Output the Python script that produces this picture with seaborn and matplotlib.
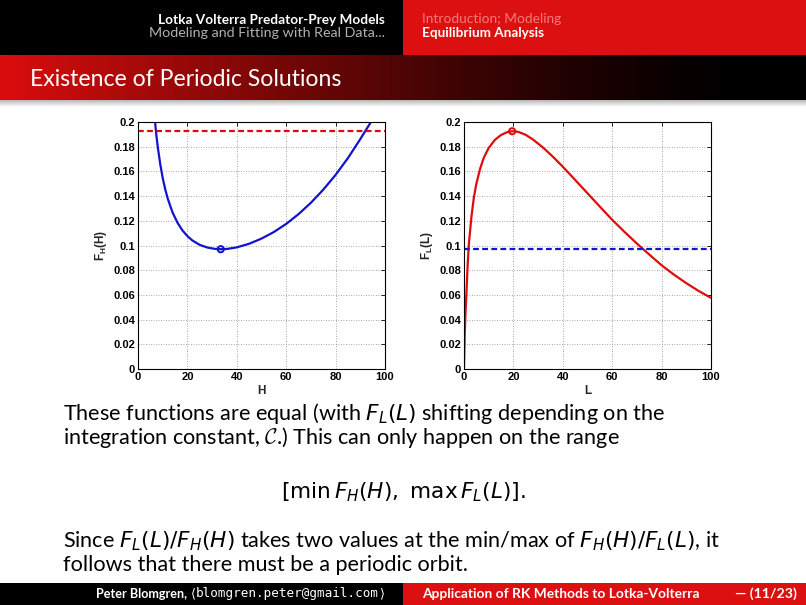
import numpy as np
import pandas as pd
import matplotlib
matplotlib.use("Agg")
import matplotlib.pyplot as plt
import seaborn as sns
from matplotlib.patches import Rectangle

# ---------------- data ----------------
H_values = [6.9, 7.5, 8, 9, 10, 11, 12, 14, 16, 18, 20, 22, 25, 28, 31, 33.5,
            36, 40, 45, 50, 55, 60, 65, 70, 75, 80, 85, 90, 94.3]
FH_values = [0.2, 0.1882, 0.1798, 0.1659, 0.1547, 0.1457, 0.1382, 0.1267, 0.1184,
             0.1122, 0.1076, 0.1041, 0.1005, 0.0984, 0.0973, 0.0970, 0.0972, 0.0985,
             0.1014, 0.1056, 0.1109, 0.1175, 0.1254, 0.1346, 0.1452, 0.1572, 0.1708,
             0.1862, 0.2]
L_values = [0, 0.3, 0.6, 1.0, 1.5, 2.0, 3.0, 4.0, 5.0, 6.5, 8, 10, 12.5, 15, 17.5,
            19.5, 22, 25, 28, 32, 36, 40, 45, 50, 55, 60, 65, 70, 75, 80, 85, 90,
            95, 100]
FL_values = [0.0, 0.028, 0.045, 0.062, 0.085, 0.102, 0.123, 0.139, 0.150, 0.162,
             0.171, 0.179, 0.1855, 0.1895, 0.1918, 0.1925, 0.1920, 0.1896, 0.1857,
             0.1793, 0.1719, 0.1638, 0.1531, 0.1423, 0.1315, 0.1208, 0.1110, 0.1016,
             0.0927, 0.0840, 0.0764, 0.0695, 0.0632, 0.0576]
H_at_min = [33.5]
FH_min = [0.097]
L_at_max = [19.5]
FL_max = [0.1925]
x_ticks = [0, 20, 40, 60, 80, 100]
x_ticklabels = ["0", "20", "40", "60", "80", "100"]
y_ticks = [0, 0.02, 0.04, 0.06, 0.08, 0.1, 0.12, 0.14, 0.16, 0.18, 0.2]
y_ticklabels = ["0", "0.02", "0.04", "0.06", "0.08", "0.1", "0.12", "0.14",
                "0.16", "0.18", "0.2"]

# ---------------- style ----------------
sns.set_style("white")
plt.rcParams["font.family"] = ["Lato", "DejaVu Sans"]
plt.rcParams["mathtext.fontset"] = "custom"
plt.rcParams["mathtext.rm"] = "DejaVu Sans"
plt.rcParams["mathtext.it"] = "DejaVu Sans:italic"
plt.rcParams["mathtext.bf"] = "Liberation Sans:bold"
plt.rcParams["mathtext.cal"] = "cmsy10"

BLUE = "#1212d2"
RED = "#e00c0c"
HDR_RED = "#dc1010"
PLOT_FONT = ["Liberation Sans", "DejaVu Sans"]

W, Hh = 806, 605
fig = plt.figure(figsize=(W / 100, Hh / 100), dpi=100)
fig.patch.set_facecolor("white")

bg = fig.add_axes([0, 0, 1, 1], zorder=0)
bg.set_xlim(0, W)
bg.set_ylim(Hh, 0)
bg.axis("off")

# header
bg.add_patch(Rectangle((0, 0), 403, 55, color="black", lw=0))
bg.add_patch(Rectangle((403, 0), W - 403, 55, color=HDR_RED, lw=0))
# title bar gradient red -> black
t = np.linspace(0, 1, 400)
fade = np.clip(1 - t / 0.92, 0, 1) ** 1.3
grad = np.zeros((1, len(t), 3))
grad[0, :, 0] = 0.86 * fade
grad[0, :, 1] = 0.05 * fade
grad[0, :, 2] = 0.05 * fade
bg.imshow(grad, extent=(0, W, 100, 55), aspect="auto", interpolation="bilinear")
# shadow under title bar
sh = np.linspace(0.72, 1.0, 20)
shadow = np.repeat(sh[:, None, None], 3, axis=2)
bg.imshow(shadow, extent=(0, W, 107, 100), aspect="auto", interpolation="bilinear")
bg.set_xlim(0, W)
bg.set_ylim(Hh, 0)
# footer
bg.add_patch(Rectangle((0, 583), 403, 22, color="black", lw=0))
bg.add_patch(Rectangle((403, 583), W - 403, 22, color=HDR_RED, lw=0))

renderer = fig.canvas.get_renderer()


def fit_text(x, y, s, width, size, ha="left", **kw):
    txt = bg.text(x, y, s, fontsize=size, ha=ha, va="center", **kw)
    w = txt.get_window_extent(renderer).width
    txt.set_fontsize(size * width / w)
    return txt


def pieces_right(x_right, y, pieces, size, width, **kw):
    """Place text pieces left-to-right, scaled to width, ending at x_right."""
    objs = []
    for s, extra in pieces:
        o = bg.text(0, y, s, fontsize=size, ha="left", va="center", **kw, **extra)
        objs.append(o)
    total = sum(o.get_window_extent(renderer).width for o in objs)
    scale = width / total
    for o in objs:
        o.set_fontsize(size * scale)
    widths = [o.get_window_extent(renderer).width for o in objs]
    x = x_right - sum(widths)
    for o, w in zip(objs, widths):
        o.set_x(x)
        x += w


# header texts
fit_text(385, 20, "Lotka Volterra Predator-Prey Models", 228, 8, ha="right",
         color="white", fontweight="bold")
fit_text(385, 33, "Modeling and Fitting with Real Data...", 238, 8, ha="right",
         color="#b0b0b0")
fit_text(422, 19, "Introduction; Modeling", 140, 8, color="#f27a7a")
fit_text(422, 33, "Equilibrium Analysis", 122, 8, color="white", fontweight="bold")
# title
fit_text(30, 80, "Existence of Periodic Solutions", 312, 15, color="white")

# body text (common size from first line)
t1 = fit_text(63, 414, r"These functions are equal (with $F_L(L)$ shifting depending on the",
              604, 12.5, color="black")
bs = t1.get_fontsize()
bg.text(63, 437, r"integration constant, $\mathcal{C}$.) This can only happen on the range",
        fontsize=bs, va="center", color="black")
bg.text(403, 492, r"$\left[\min\, F_H(H),\ \max\, F_L(L)\right].$", fontsize=bs,
        va="center", ha="center", color="black")
bg.text(63, 541, r"Since $F_L(L)/F_H(H)$ takes two values at the min/max of $F_H(H)/F_L(L)$, it",
        fontsize=bs, va="center", color="black")
bg.text(63, 565, "follows that there must be a periodic orbit.", fontsize=bs,
        va="center", color="black")

# footer text
pieces_right(385, 594, [("Peter Blomgren, ", {"fontweight": "bold"}),
                        (r"$\langle$", {}),
                        ("blomgren.peter@gmail.com", {"family": "DejaVu Sans Mono"}),
                        (r"$\rangle$", {})], 8, 290, color="white")
fit_text(422, 594, "Application of RK Methods to Lotka-Volterra", 278, 8, color="white",
         fontweight="bold")
fit_text(797, 594, r"— (11/23)", 62, 8, ha="right", color="white", fontweight="bold")

# ---------------- plots ----------------
dfH = pd.DataFrame({"H": H_values, "F": FH_values})
dfL = pd.DataFrame({"L": L_values, "F": FL_values})

ax1 = fig.add_axes([138 / W, 1 - 369 / Hh, 247 / W, 247 / Hh], zorder=2)
ax2 = fig.add_axes([464 / W, 1 - 369 / Hh, 247 / W, 247 / Hh], zorder=2)

sns.lineplot(data=dfH, x="H", y="F", ax=ax1, color=BLUE, linewidth=1.6,
             estimator=None, sort=False)
ax1.axhline(FL_max[0], color=RED, lw=1.6, dashes=(2.6, 1.5))
sns.scatterplot(x=H_at_min, y=FH_min, ax=ax1, s=20, marker="o",
                facecolor="none", edgecolor=BLUE, linewidth=1.4, zorder=5)

sns.lineplot(data=dfL, x="L", y="F", ax=ax2, color=RED, linewidth=1.6,
             estimator=None, sort=False)
ax2.axhline(FH_min[0], color=BLUE, lw=1.6, dashes=(2.6, 1.5))
sns.scatterplot(x=L_at_max, y=FL_max, ax=ax2, s=20, marker="o",
                facecolor="none", edgecolor=RED, linewidth=1.4, zorder=5)

for ax, xl, yl in [(ax1, "H", r"F$_\mathbf{H}$(H)"), (ax2, "L", r"F$_\mathbf{L}$(L)")]:
    ax.set_xlim(0, 100)
    ax.set_ylim(0, 0.2)
    ax.set_xticks(x_ticks)
    ax.set_xticklabels(x_ticklabels, fontfamily=PLOT_FONT, fontweight="bold", fontsize=8)
    ax.set_yticks(y_ticks)
    ax.set_yticklabels(y_ticklabels, fontfamily=PLOT_FONT, fontweight="bold", fontsize=8)
    ax.tick_params(direction="in", length=3, width=0.6, top=True, right=True,
                   pad=2, colors="black")
    ax.grid(True, linestyle=(0, (1, 2)), color="#8a8a8a", linewidth=0.6)
    for sp in ax.spines.values():
        sp.set_visible(True)
        sp.set_color("black")
        sp.set_linewidth(0.8)
    ax.set_xlabel(xl, fontfamily=PLOT_FONT, fontweight="bold", fontsize=8.5, labelpad=2)
    ax.set_ylabel(yl, fontfamily=PLOT_FONT, fontweight="bold", fontsize=8.5, labelpad=3)
    ax.set_facecolor("white")

fig.savefig("out.png", dpi=100)
